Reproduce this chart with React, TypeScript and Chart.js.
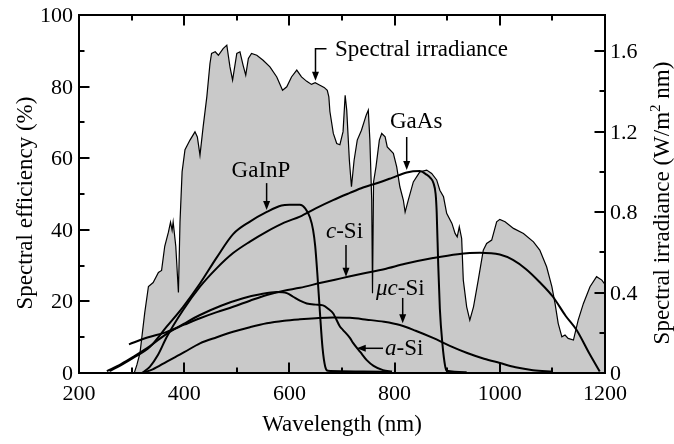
import React, { useEffect, useRef, useState } from 'react';
import { Chart, registerables } from 'chart.js';

Chart.register(...registerables);

const FONT = '"Liberation Serif"';

// Axis ranges and tick labels
const wavelengthTicks = [200, 400, 600, 800, 1000, 1200];
const efficiencyTicks = [0, 20, 40, 60, 80, 100];
const irradianceTicks = [0, 0.4, 0.8, 1.2, 1.6];
const irradianceTickLabels = ['0', '0.4', '0.8', '1.2', '1.6'];
const irradianceMax = 1.78;

// Solar spectral irradiance (W/m^2 nm)
const irrWavelength = [
  305, 310, 316, 325, 332, 341, 351, 357, 363, 370, 374, 377, 379, 384, 389, 392, 396, 401.5,
  411, 420.5, 425, 430, 436, 443, 449, 452, 459, 465, 474, 481, 487, 492, 500, 506, 512, 517,
  522, 528, 538, 550, 563, 576, 587, 595, 604, 614, 623, 633, 642, 649, 658, 666, 672, 675,
  677, 683.5, 690, 696, 702, 706, 709, 714, 718, 723, 729, 737, 746, 750, 753, 756.5, 758,
  760, 764.6, 771, 775.5, 782, 786, 797.6, 804, 810, 816.6, 820, 826, 835.6, 848, 861, 870.5,
  880, 886, 893, 899, 909, 915, 919, 923, 927.5, 930.6, 937, 943, 950, 959, 968.6, 975, 984.6,
  994, 1000, 1010, 1026, 1045, 1064, 1076, 1089, 1099, 1105, 1111, 1118, 1124, 1130, 1140,
  1149, 1159, 1171.5, 1184, 1194, 1200,
];
const irrValue = [
  0, 0.04, 0.1, 0.3, 0.43, 0.45, 0.5, 0.51, 0.63, 0.7, 0.75, 0.71, 0.75, 0.63, 0.4, 0.75, 1.0, 1.11,
  1.158, 1.199, 1.174, 1.083, 1.224, 1.373, 1.539, 1.589, 1.597, 1.58, 1.613, 1.63, 1.522, 1.456, 1.589, 1.597, 1.53, 1.481,
  1.564, 1.589, 1.58, 1.555, 1.522, 1.472, 1.406, 1.423, 1.472, 1.506, 1.472, 1.45, 1.435, 1.443, 1.431, 1.42, 1.405, 1.373,
  1.3, 1.191, 1.141, 1.135, 1.2, 1.381, 1.307, 1.058, 0.926, 1.058, 1.158, 1.207, 1.282, 1.307, 1.158, 0.86, 0.396,
  0.95, 1.025, 1.158, 1.191, 1.174, 1.124, 1.092, 1.025, 0.926, 0.86, 0.8, 0.86, 0.95, 1.0, 1.009, 0.992,
  0.96, 0.909, 0.876, 0.794, 0.744, 0.694, 0.677, 0.727, 0.669, 0.462, 0.329, 0.263, 0.329, 0.462, 0.611, 0.644, 0.661,
  0.752, 0.764, 0.752, 0.719, 0.694, 0.652, 0.611, 0.528, 0.429, 0.346, 0.247, 0.18, 0.189, 0.172, 0.164,
  0.263, 0.346, 0.429, 0.479, 0.462, 0.44,
];

// Spectral efficiency of each cell (%)
const gainpWavelength = [258, 280, 303, 335, 367, 398, 430, 462, 493, 525, 557, 585, 600, 620, 630, 639, 645, 649, 653, 658, 663, 668, 673, 700, 740, 795];
const gainpEfficiency = [0.5, 2.2, 4.2, 7.3, 13, 18.5, 25, 32.3, 38.8, 42.3, 45, 46.8, 47, 47, 46, 43.5, 40, 35.5, 28, 17, 7, 1.8, 0.6, 0.5, 0.4, 0.3];

const gaasWavelength = [320, 335, 350, 367, 398, 430, 462, 493, 525, 557, 590, 620, 650, 683, 715, 740, 766, 795, 823, 848, 860, 868, 874, 878, 880, 883, 886, 891, 896, 899, 937];
const gaasEfficiency = [0, 1.8, 5, 10.1, 17.6, 24.1, 29.3, 33.5, 36.7, 39.5, 42, 43.7, 46, 48.3, 50.3, 51.8, 53, 54.5, 56, 56.4, 55.5, 54.5, 53, 50, 45, 30, 18, 8, 2, 0.6, 0.2];

const cSiWavelength = [295, 330, 367, 400, 430, 462, 493, 525, 557, 590, 620, 660, 700, 740, 780, 820, 873, 920, 962, 1000, 1025, 1050, 1075, 1101, 1125, 1146, 1170, 1190];
const cSiEfficiency = [8, 9.9, 11.5, 13.5, 15.3, 17, 18.5, 20.2, 21.8, 23, 23.8, 25.2, 26.5, 27.8, 29, 30.5, 32.1, 33.2, 33.6, 33.1, 31.6, 29, 25.5, 21.3, 16, 12, 5.5, 0.4];

const ucSiWavelength = [319, 340, 367, 400, 430, 462, 493, 525, 557, 590, 620, 650, 683, 715, 747, 780, 810, 840, 873, 905, 938, 970, 1000, 1030, 1063, 1101];
const ucSiEfficiency = [0, 1, 3.2, 5.8, 8.3, 10, 11.5, 12.8, 13.9, 14.6, 15, 15.3, 15.5, 15.4, 14.9, 14.3, 13.4, 11.8, 9.8, 7.6, 5.6, 4, 2.8, 1.6, 0.8, 0.4];

const aSiWavelength = [253, 280, 303, 335, 367, 400, 430, 470, 512, 545, 576, 595, 607, 620, 633, 650, 664, 675, 683, 696, 702, 715, 721, 735, 747, 760, 778, 795];
const aSiEfficiency = [0.5, 2.5, 4.5, 7.5, 11, 13.8, 16.2, 18.8, 20.9, 22, 22.6, 22.3, 21.3, 20.2, 19.4, 19.1, 18.9, 17.8, 16.7, 13, 12, 9.8, 8.4, 5.8, 3.6, 2, 0.8, 0.4];

// Callouts: arrow tip in data units (nm, %), label/arrow geometry in px relative to the tip
type Seg = { t: string; italic?: boolean };
const callouts: { text: Seg[]; nm: number; pct: number; path: number[][]; tx: number; ty: number; dir: 'down' | 'left' }[] = [
  { text: [{ t: 'Spectral irradiance' }], nm: 649.6, pct: 81.6, path: [[11, -32], [0, -32]], tx: 19.5, ty: -33, dir: 'down' },
  { text: [{ t: 'GaAs' }], nm: 823, pct: 56.7, path: [[0, -33]], tx: -16.7, ty: -50, dir: 'down' },
  { text: [{ t: 'GaInP' }], nm: 556.7, pct: 45.5, path: [[0, -27]], tx: -35, ty: -41.5, dir: 'down' },
  { text: [{ t: 'c', italic: true }, { t: '-Si' }], nm: 707.6, pct: 26.9, path: [[0, -31.7]], tx: -20, ty: -46.5, dir: 'down' },
  { text: [{ t: '\u03bcc', italic: true }, { t: '-Si' }], nm: 815.4, pct: 13.9, path: [[0, -25.3]], tx: -26.7, ty: -36.5, dir: 'down' },
  { text: [{ t: 'a', italic: true }, { t: '-Si' }], nm: 728, pct: 6.9, path: [[26.3, 0]], tx: 28.3, ty: -1.5, dir: 'left' },
];

const toPoints = (xs: number[], ys: number[]) => xs.map((x, i) => ({ x, y: ys[i] }));

const MAJOR = 10.5;
const MINOR = 5.5;

const framePlugin = {
  id: 'frameAndArrows',
  afterDatasetsDraw(chart: any) {
    const { ctx, chartArea: a, scales } = chart;
    const sx = scales.x;
    const sy = scales.y;
    const sr = scales.y1;
    ctx.save();
    ctx.strokeStyle = '#000';
    ctx.fillStyle = '#000';
    ctx.lineWidth = 2;
    ctx.lineCap = 'butt';
    ctx.strokeRect(a.left, a.top, a.right - a.left, a.bottom - a.top);
    const seg = (x1: number, y1: number, x2: number, y2: number) => {
      ctx.beginPath();
      ctx.moveTo(x1, y1);
      ctx.lineTo(x2, y2);
      ctx.stroke();
    };
    // wavelength ticks, bottom and top, pointing inward
    for (let v = 300; v < 1200; v += 100) {
      const px = Math.round(sx.getPixelForValue(v));
      const len = v % 200 === 0 ? MAJOR : MINOR;
      seg(px, a.bottom, px, a.bottom - len);
      seg(px, a.top, px, a.top + len);
    }
    // efficiency ticks on the left
    for (let v = 10; v < 100; v += 10) {
      const py = Math.round(sy.getPixelForValue(v));
      seg(a.left, py, a.left + (v % 20 === 0 ? MAJOR : MINOR), py);
    }
    // irradiance ticks on the right
    for (let k = 1; k * 0.2 < irradianceMax; k++) {
      const py = Math.round(sr.getPixelForValue(k * 0.2));
      seg(a.right, py, a.right - (k % 2 === 0 ? MAJOR : MINOR), py);
    }

    // callout arrows
    ctx.lineWidth = 1.5;
    for (const c of callouts) {
      const tx = sx.getPixelForValue(c.nm);
      const ty = sy.getPixelForValue(c.pct);
      const head = 9;
      ctx.beginPath();
      const pts = c.path.map(([dx, dy]) => [tx + dx, ty + dy]);
      ctx.moveTo(pts[0][0], pts[0][1]);
      for (let i = 1; i < pts.length; i++) ctx.lineTo(pts[i][0], pts[i][1]);
      if (c.dir === 'down') ctx.lineTo(tx, ty - head + 1);
      else ctx.lineTo(tx + head - 1, ty);
      ctx.stroke();
      ctx.beginPath();
      if (c.dir === 'down') {
        ctx.moveTo(tx, ty);
        ctx.lineTo(tx - 3.5, ty - head);
        ctx.lineTo(tx + 3.5, ty - head);
      } else {
        ctx.moveTo(tx, ty);
        ctx.lineTo(tx + head, ty - 3.5);
        ctx.lineTo(tx + head, ty + 3.5);
      }
      ctx.closePath();
      ctx.fill();
    }
    ctx.restore();
  },
};

const textStyle: React.CSSProperties = {
  position: 'absolute',
  fontFamily: FONT,
  fontSize: 23,
  lineHeight: 1,
  whiteSpace: 'nowrap',
  color: '#000',
};
const tickStyle: React.CSSProperties = { ...textStyle, fontSize: 22 };

type Layout = {
  callouts: { x: number; y: number }[];
  xTicks: number[];
  yTicks: number[];
  rTicks: number[];
  left: number;
  right: number;
  bottom: number;
};

export default function App() {
  const ref = useRef<HTMLCanvasElement>(null);
  const [layout, setLayout] = useState<Layout | null>(null);

  useEffect(() => {
    if (!ref.current) return;
    const curve = (data: { x: number; y: number }[]) => ({
      type: 'line' as const,
      data,
      yAxisID: 'y',
      borderColor: '#000',
      borderWidth: 2,
      pointRadius: 0,
      fill: false,
      cubicInterpolationMode: 'monotone' as const,
      order: 0,
    });
    const chart = new Chart(ref.current, {
      type: 'line',
      data: {
        datasets: [
          {
            data: toPoints(irrWavelength, irrValue),
            yAxisID: 'y1',
            borderColor: '#000',
            borderWidth: 1.2,
            backgroundColor: '#c9c9c9',
            fill: 'origin',
            pointRadius: 0,
            tension: 0,
            order: 5,
          },
          curve(toPoints(gainpWavelength, gainpEfficiency)),
          curve(toPoints(gaasWavelength, gaasEfficiency)),
          curve(toPoints(cSiWavelength, cSiEfficiency)),
          curve(toPoints(ucSiWavelength, ucSiEfficiency)),
          curve(toPoints(aSiWavelength, aSiEfficiency)),
        ],
      },
      options: {
        animation: false,
        responsive: false,
        devicePixelRatio: 1,
        layout: { padding: { top: 15, left: 0, right: 0, bottom: 0 } },
        plugins: { legend: { display: false }, tooltip: { enabled: false } },
        scales: {
          x: {
            type: 'linear',
            min: wavelengthTicks[0],
            max: wavelengthTicks[wavelengthTicks.length - 1],
            ticks: { display: false },
            grid: { display: false, drawTicks: false },
            border: { display: false },
            afterFit: (s: any) => {
              s.height = 71;
            },
          },
          y: {
            position: 'left',
            min: efficiencyTicks[0],
            max: efficiencyTicks[efficiencyTicks.length - 1],
            ticks: { display: false },
            grid: { display: false, drawTicks: false },
            border: { display: false },
            afterFit: (s: any) => {
              s.width = 79;
            },
          },
          y1: {
            position: 'right',
            min: 0,
            max: irradianceMax,
            ticks: { display: false },
            grid: { display: false, drawTicks: false },
            border: { display: false },
            afterFit: (s: any) => {
              s.width = 69;
            },
          },
        },
      },
      plugins: [framePlugin],
    });
    const sx = chart.scales.x;
    const sy = chart.scales.y;
    const sr = chart.scales.y1;
    setLayout({
      callouts: callouts.map((c) => ({
        x: sx.getPixelForValue(c.nm) + c.tx,
        y: sy.getPixelForValue(c.pct) + c.ty,
      })),
      xTicks: wavelengthTicks.map((v) => sx.getPixelForValue(v)),
      yTicks: efficiencyTicks.map((v) => sy.getPixelForValue(v)),
      rTicks: irradianceTicks.map((v) => sr.getPixelForValue(v)),
      left: chart.chartArea.left,
      right: chart.chartArea.right,
      bottom: chart.chartArea.bottom,
    });
    return () => chart.destroy();
  }, []);

  return (
    <div style={{ position: 'absolute', left: 0, top: 0, width: 674, height: 444, background: '#fff', fontFamily: FONT }}>
      <canvas ref={ref} width={674} height={444} style={{ display: 'block' }} />
      {layout && (
        <>
          {wavelengthTicks.map((v, i) => (
            <div
              key={`x${v}`}
              style={{ ...tickStyle, left: layout.xTicks[i], top: layout.bottom + 20, transform: 'translate(-50%, -50%)' }}
            >
              {v}
            </div>
          ))}
          {efficiencyTicks.map((v, i) => (
            <div
              key={`y${v}`}
              style={{ ...tickStyle, left: layout.left - 6, top: layout.yTicks[i], transform: 'translate(-100%, -50%)' }}
            >
              {v}
            </div>
          ))}
          {irradianceTickLabels.map((t, i) => (
            <div
              key={`r${t}`}
              style={{ ...tickStyle, left: layout.right + 5, top: layout.rTicks[i], transform: 'translateY(-50%)' }}
            >
              {t}
            </div>
          ))}
          {callouts.map((c, i) => (
            <div
              key={`c${i}`}
              style={{ ...textStyle, left: layout.callouts[i].x, top: layout.callouts[i].y, transform: 'translateY(-50%)' }}
            >
              {c.text.map((s, j) => (
                <span key={j} style={{ fontStyle: s.italic ? 'italic' : 'normal' }}>
                  {s.t}
                </span>
              ))}
            </div>
          ))}
        </>
      )}
      <div style={{ ...textStyle, left: 342, top: 423, transform: 'translate(-50%, -50%)' }}>Wavelength (nm)</div>
      <div style={{ ...textStyle, left: 24, top: 203, transform: 'translate(-50%, -50%) rotate(-90deg)' }}>
        Spectral efficiency (%)
      </div>
      <div style={{ ...textStyle, left: 661, top: 203, transform: 'translate(-50%, -50%) rotate(-90deg)' }}>
        Spectral irradiance (W/m
        <sup style={{ fontSize: 15, lineHeight: 0, verticalAlign: 0, position: 'relative', top: -9 }}>2</sup> nm)
      </div>
    </div>
  );
}
